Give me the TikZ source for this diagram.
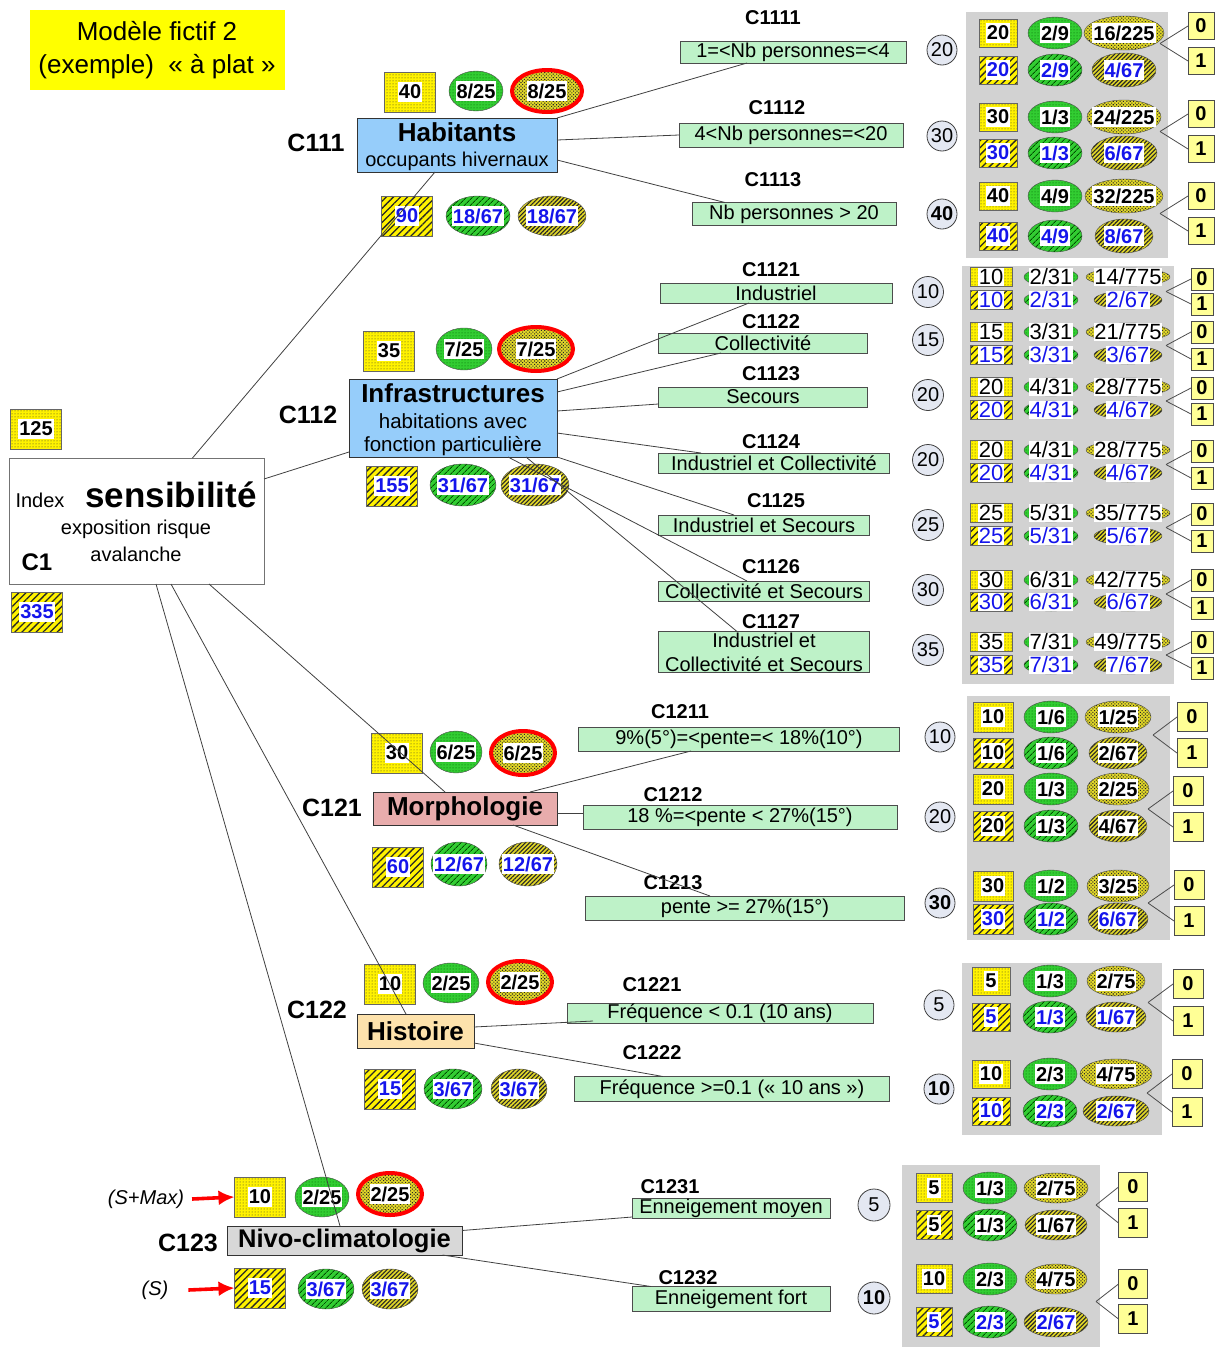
\documentclass[tikz,border=0pt]{standalone}
\usepackage{fontspec}
\setmainfont{Liberation Sans}
\usetikzlibrary{shapes.geometric,patterns,patterns.meta,arrows.meta}
\definecolor{titley}{RGB}{255,255,0}
\definecolor{bluec}{RGB}{150,205,250}
\definecolor{gboxc}{RGB}{190,242,200}
\definecolor{circc}{RGB}{228,232,242}
\definecolor{oboxc}{RGB}{255,255,150}
\definecolor{gcol}{RGB}{50,205,50}
\definecolor{ocol}{RGB}{225,215,40}
\definecolor{pinkc}{RGB}{232,172,172}
\definecolor{wheatc}{RGB}{253,226,172}
\definecolor{nivoc}{RGB}{216,216,216}
\definecolor{panelc}{RGB}{210,210,210}
\definecolor{bluet}{RGB}{20,20,235}
\newcommand\fs[2]{\fontsize{#1}{#2}\selectfont}
\tikzset{
  every node/.append style={inner sep=0pt, outer sep=0pt},
  ln/.style={draw=black!75, line width=0.8pt},
  thinl/.style={draw=black!70, line width=0.8pt},
  clab/.style={font=\bfseries\fs{25}{30}},
  slab/.style={font=\bfseries\fs{20}{24}},
  gbox/.style={draw=black!70, fill=gboxc, font=\fs{20}{24}, line width=0.8pt},
  circ/.style={circle, draw=black!75, fill=circc, minimum size=30pt, font=\fs{20}{24}, line width=0.8pt},
  obox/.style={draw=black!70, fill=oboxc, minimum width=26pt, minimum height=27pt, font=\bfseries\fs{20}{24}, line width=0.8pt},
  ydot/.style={draw=black!60, preaction={fill=yellow}, pattern=dots, pattern color=black!80},
  yhat/.style={draw=black!60, preaction={fill=yellow}, pattern={Lines[angle=45,distance=5pt,line width=1.3pt]}, pattern color=black!85},
  gdot/.style={ellipse, draw=black!70, preaction={fill=gcol}, pattern=dots, pattern color=green!35!black},
  ghat/.style={ellipse, draw=black!70, preaction={fill=gcol}, pattern={Lines[angle=45,distance=4pt,line width=1pt]}, pattern color=green!30!black},
  odot/.style={ellipse, draw=black!70, preaction={fill=ocol}, pattern={Dots[radius=0.75pt,distance=2.4pt,angle=45]}, pattern color=black!85},
  ohat/.style={ellipse, draw=black!70, preaction={fill=ocol}, pattern={Lines[angle=45,distance=3pt,line width=1.1pt]}, pattern color=black!85},
  wl/.style={fill=white, inner xsep=1pt, inner ysep=3pt, font=\bfseries\fs{20}{24}},
  redring/.style={draw=red, line width=4pt},
  bsq/.style={minimum width=51pt, minimum height=40pt},
  mainbox/.style={draw=black!80, line width=0.9pt},
  rarr/.style={draw=red, line width=3.6pt, -{Latex[length=16pt,width=15pt]}},
  panel/.style={fill=panelc},
}
\newcommand\cell[5]{\node[#1] (#2) at (#3) {}; \node[wl,text=#4] (#2t) at (#2) {#5};}
\newcommand\toprow[6]{%
 \cell{ydot,psq}{#1a}{\xa,#2}{black}{#3}%
 \cell{gdot,pel}{#1b}{\xb,#2}{black}{#4}%
 \cell{odot,pol,minimum width=#6}{#1c}{\xc,#2}{black}{#5}}
\newcommand\botrow[7]{%
 \cell{yhat,psq}{#1d}{\xa,#2}{#6}{#3}%
 \cell{ghat,pel}{#1e}{\xb,#2}{#6}{#4}%
 \cell{ohat,pol,minimum width=#7}{#1f}{\xc,#2}{#6}{#5}}
\newcommand\zo[5]{%
 \node[obox] (#1z) at (#2,#3) {0};
 \node[obox] (#1o) at (#2,#4) {1};
 \coordinate (#1k) at (#5,{(#3+#4)/2});
 \draw[thinl] (#1k) -- (#1z.west); \draw[thinl] (#1k) -- (#1o.west);}
\begin{document}
\begin{tikzpicture}[x=1pt,y=-1pt]
\useasboundingbox (0,0) rectangle (1220,1347);

% title
\node[fill=titley, minimum width=255, minimum height=80, align=center, font=\fs{26}{33}] (title) at (157,50) {Modèle fictif 2\\(exemple)~~«~à plat~»};

% C1 root
\node[draw=black!55, fill=white, minimum width=255, minimum height=126, line width=0.8pt] (c1) at (136.5,521) {};
\node[font=\fs{20}{24}] (c1idx) at (40,500) {Index};
\node[font=\bfseries\fs{35}{40}] (c1sens) at (171,495) {sensibilité};
\node[font=\fs{20}{24}] (c1exp) at (136,529) {exposition risque};
\node[font=\fs{20}{24}] (c1ava) at (136,554) {avalanche};
\node[font=\bfseries\fs{24}{28}] (c1lab) at (37,562) {C1};
\cell{ydot,bsq}{c1a}{36,429}{black}{125}
\cell{yhat,bsq}{c1b}{37,612}{bluet}{335}

% ---------- C111 ----------
\cell{ydot,bsq}{a40}{410,92}{black}{40}
\cell{gdot,minimum width=54,minimum height=40}{ag}{476,91}{black}{8/25}
\cell{odot,redring,minimum width=70,minimum height=42}{ar}{547,91}{black}{8/25}
\cell{yhat,bsq}{a90}{407,216}{bluet}{90}
\cell{ghat,minimum width=64,minimum height=40}{agh}{478,216}{bluet}{18/67}
\cell{ohat,minimum width=68,minimum height=40}{aoh}{552,216}{bluet}{18/67}
\node[mainbox, fill=bluec, minimum width=200, minimum height=54] (hab) at (457,145) {};
\node[font=\bfseries\fs{26}{30}] (habt) at (457,132) {Habitants};
\node[font=\fs{20}{24}] (habs) at (457,161) {occupants hivernaux};
\node[clab] (c111) at (316,143) {C111};

\node[slab] (l1111) at (773,18) {C1111};
\node[gbox, minimum width=226, minimum height=22] (g1111) at (793,52) {1=<Nb personnes=<4};
\node[slab] (l1112) at (777,108) {C1112};
\node[gbox, minimum width=224, minimum height=24] (g1112) at (791,135) {4<Nb personnes=<20};
\node[slab] (l1113) at (773,180) {C1113};
\node[gbox, minimum width=204, minimum height=23] (g1113) at (794,214) {Nb personnes > 20};
\node[circ] (k1111) at (942,50) {20};
\node[circ] (k1112) at (942,136) {30};
\node[circ] (k1113) at (942,214) {\bfseries 40};

\begin{scope}[psq/.style={minimum width=38,minimum height=28}, pel/.style={minimum width=54,minimum height=32}, pol/.style={minimum height=34}]
\def\xa{998}\def\xb{1055}\def\xc{1124}
\fill[panel] (966,12) rectangle (1168,258);
\toprow{pa1}{33}{20}{2/9}{16/225}{80}
\botrow{pa1}{70}{20}{2/9}{4/67}{bluet}{64}
\zo{pa1}{1201}{26}{61}{1160}
\toprow{pa2}{117}{30}{1/3}{24/225}{74}
\botrow{pa2}{153}{30}{1/3}{6/67}{bluet}{66}
\zo{pa2}{1201}{114}{149}{1160}
\toprow{pa3}{196}{40}{4/9}{32/225}{78}
\botrow{pa3}{236}{40}{4/9}{8/67}{bluet}{58}
\zo{pa3}{1201}{196}{231}{1160}
\end{scope}

% ---------- C112 ----------
\cell{ydot,bsq}{b35}{389,351}{black}{35}
\cell{gdot,minimum width=56,minimum height=42}{bg}{464,349}{black}{7/25}
\cell{odot,redring,minimum width=74,minimum height=44}{br}{536,349}{black}{7/25}
\cell{yhat,bsq}{b155}{392,486}{bluet}{155}
\cell{ghat,minimum width=66,minimum height=42}{bgh}{463,485}{bluet}{31/67}
\cell{ohat,minimum width=68,minimum height=42}{boh}{535,485}{bluet}{31/67}
\node[mainbox, fill=bluec, minimum width=208, minimum height=78] (inf) at (453,418) {};
\node[font=\bfseries\fs{26}{30}] (inft) at (453,393) {Infrastructures};
\node[font=\fs{20.5}{24}] (infs1) at (453,421) {habitations avec};
\node[font=\fs{20.5}{24}] (infs2) at (453,446) {fonction particulière};
\node[clab] (c112) at (308,415) {C112};

\node[slab] (l1121) at (771,270) {C1121};
\node[gbox, minimum width=232, minimum height=20] (g1121) at (776,293) {Industriel};
\node[slab] (l1122) at (771,322) {C1122};
\node[gbox, minimum width=209, minimum height=20] (g1122) at (763,343) {Collectivité};
\node[slab] (l1123) at (771,374) {C1123};
\node[gbox, minimum width=209, minimum height=20] (g1123) at (763,397) {Secours};
\node[slab] (l1124) at (771,442) {C1124};
\node[gbox, minimum width=231, minimum height=20] (g1124) at (774,463) {Industriel et Collectivité};
\node[slab] (l1125) at (776,501) {C1125};
\node[gbox, minimum width=211, minimum height=20] (g1125) at (764,525) {Industriel et Secours};
\node[slab] (l1126) at (771,567) {C1126};
\node[gbox, minimum width=211, minimum height=20] (g1126) at (764,591) {Collectivité et Secours};
\node[gbox, minimum width=211, minimum height=41, align=center] (g1127) at (764,652) {Industriel et\\Collectivité et Secours};
\node[slab] (l1127) at (771,622) {C1127};
\node[circ,minimum size=31pt] (k1121) at (928,292) {10};
\node[circ,minimum size=31pt] (k1122) at (928,340) {15};
\node[circ,minimum size=31pt] (k1123) at (928,395) {20};
\node[circ,minimum size=31pt] (k1124) at (928,460) {20};
\node[circ,minimum size=31pt] (k1125) at (928,525) {25};
\node[circ,minimum size=31pt] (k1126) at (928,590) {30};
\node[circ,minimum size=31pt] (k1127) at (928,650) {35};

\begin{scope}[psq/.style={minimum width=42,minimum height=19}, pel/.style={minimum width=54,minimum height=18}, pol/.style={minimum height=18},
  wl/.style={fill=white, inner xsep=0.5pt, inner ysep=0pt, minimum height=18pt, font=\fs{22}{24}},
  obox/.append style={minimum width=22pt, minimum height=22pt}]
\def\xa{991}\def\xb{1051}\def\xc{1128}
\fill[panel] (962,266) rectangle (1174,684);
\toprow{pb1}{277}{10}{2/31}{14/775}{84}
\botrow{pb1}{300}{10}{2/31}{2/67}{bluet}{68}
\zo{pb1}{1202}{279}{304}{1166}
\toprow{pb2}{332}{15}{3/31}{21/775}{84}
\botrow{pb2}{355}{15}{3/31}{3/67}{bluet}{68}
\zo{pb2}{1202}{332}{359}{1166}
\toprow{pb3}{387}{20}{4/31}{28/775}{84}
\botrow{pb3}{410}{20}{4/31}{4/67}{bluet}{68}
\zo{pb3}{1202}{388}{414}{1166}
\toprow{pb4}{450}{20}{4/31}{28/775}{84}
\botrow{pb4}{473}{20}{4/31}{4/67}{bluet}{68}
\zo{pb4}{1202}{451}{478}{1166}
\toprow{pb5}{513}{25}{5/31}{35/775}{84}
\botrow{pb5}{536}{25}{5/31}{5/67}{bluet}{68}
\zo{pb5}{1202}{514}{541}{1166}
\toprow{pb6}{580}{30}{6/31}{42/775}{84}
\botrow{pb6}{602}{30}{6/31}{6/67}{bluet}{68}
\zo{pb6}{1202}{580}{608}{1166}
\toprow{pb7}{642}{35}{7/31}{49/775}{84}
\botrow{pb7}{665}{35}{7/31}{7/67}{bluet}{68}
\zo{pb7}{1202}{642}{668}{1166}
\end{scope}

% ---------- C121 ----------
\cell{ydot,bsq}{c30}{397,753}{black}{30}
\cell{gdot,minimum width=52,minimum height=42}{cg}{456,752}{black}{6/25}
\cell{odot,redring,minimum width=64,minimum height=44}{cr}{523,753}{black}{6/25}
\cell{yhat,bsq}{c60}{398,867}{bluet}{60}
\cell{ghat,minimum width=56,minimum height=44}{cgh}{459,864}{bluet}{12/67}
\cell{ohat,minimum width=58,minimum height=44}{coh}{528,864}{bluet}{12/67}
\node[mainbox, fill=pinkc, minimum width=184, minimum height=33, font=\bfseries\fs{26}{30}] (morph) at (465,808.5) {Morphologie};
\node[clab] (c121) at (332,808) {C121};

\node[slab] (l1211) at (680,712) {C1211};
\node[gbox, minimum width=321, minimum height=24] (g1211) at (739,739) {9\%(5°)=<pente=< 18\%(10°)};
\node[slab] (l1212) at (673,795) {C1212};
\node[gbox, minimum width=314, minimum height=24] (g1212) at (740,817) {18 \%=<pente < 27\%(15°)};
\node[slab] (l1213) at (673,883) {C1213};
\node[gbox, minimum width=319, minimum height=24] (g1213) at (745,908) {pente >= 27\%(15°)};
\node[circ] (k1211) at (940,737) {10};
\node[circ] (k1212) at (940,817) {20};
\node[circ] (k1213) at (940,903) {\bfseries 30};

\begin{scope}[psq/.style={minimum width=40,minimum height=30}, pel/.style={minimum width=54,minimum height=32}, pol/.style={minimum height=32},
  obox/.append style={minimum width=30pt, minimum height=29pt}]
\def\xa{993}\def\xb{1051}\def\xc{1118}
\fill[panel] (967,696) rectangle (1170,940);
\toprow{pc1}{717}{10}{1/6}{1/25}{66}
\botrow{pc1}{753}{10}{1/6}{2/67}{black}{58}
\zo{pc1}{1192}{717}{753}{1153}
\toprow{pc2}{789}{20}{1/3}{2/25}{62}
\botrow{pc2}{826}{20}{1/3}{4/67}{black}{58}
\zo{pc2}{1188}{791}{827}{1148}
\toprow{pc3}{886}{30}{1/2}{3/25}{62}
\botrow{pc3}{919}{30}{1/2}{6/67}{bluet}{60}
\zo{pc3}{1189}{885}{921}{1148}
\end{scope}

% ---------- C122 ----------
\cell{ydot,bsq}{d10}{390,984}{black}{10}
\cell{gdot,minimum width=56,minimum height=40}{dg}{451,983}{black}{2/25}
\cell{odot,redring,minimum width=64,minimum height=42}{dr}{520,982}{black}{2/25}
\cell{yhat,bsq}{d15}{390,1089}{bluet}{15}
\cell{ghat,minimum width=58,minimum height=40}{dgh}{453,1089}{bluet}{3/67}
\cell{ohat,minimum width=56,minimum height=40}{doh}{519,1089}{bluet}{3/67}
\node[mainbox, fill=wheatc, minimum width=117, minimum height=34, font=\bfseries\fs{26}{30}] (hist) at (415.5,1031) {Histoire};
\node[clab] (c122) at (317,1010) {C122};

\node[slab] (l1221) at (652,985) {C1221};
\node[gbox, minimum width=306, minimum height=20] (g1221) at (720,1013) {Fréquence < 0.1 (10 ans)};
\node[slab] (l1222) at (652,1053) {C1222};
\node[gbox, minimum width=315, minimum height=25] (g1222) at (732,1089) {Fréquence >=0.1 («~10 ans~»)};
\node[circ] (k1221) at (939,1005) {5};
\node[circ] (k1222) at (939,1089) {\bfseries 10};

\begin{scope}[psq/.style={minimum width=38,minimum height=28}, pel/.style={minimum width=54,minimum height=32}, pol/.style={minimum height=30},
  obox/.append style={minimum width=30pt, minimum height=29pt}]
\def\xa{991}\def\xb{1050}\def\xc{1116}
\fill[panel] (962,963) rectangle (1162,1135);
\toprow{pd1}{981}{5}{1/3}{2/75}{58}
\botrow{pd1}{1017}{5}{1/3}{1/67}{bluet}{60}
\zo{pd1}{1188}{984}{1021}{1148}
\toprow{pd2}{1074}{10}{2/3}{4/75}{72}
\botrow{pd2}{1111}{10}{2/3}{2/67}{bluet}{66}
\zo{pd2}{1187}{1074}{1112}{1147}
\end{scope}

% ---------- C123 ----------
\cell{ydot,bsq}{e10}{260,1197}{black}{10}
\cell{gdot,minimum width=54,minimum height=40}{eg}{322,1197}{black}{2/25}
\cell{odot,redring,minimum width=64,minimum height=42}{er}{390,1194}{black}{2/25}
\cell{yhat,bsq}{e15}{260,1288}{bluet}{15}
\cell{ghat,minimum width=56,minimum height=40}{egh}{326,1289}{bluet}{3/67}
\cell{ohat,minimum width=56,minimum height=40}{eoh}{390,1289}{bluet}{3/67}
\node[mainbox, fill=nivoc, minimum width=235, minimum height=29, font=\bfseries\fs{25.5}{30}] (nivo) at (344.5,1240.5) {Nivo-climatologie};
\node[clab] (c123) at (188,1243) {C123};
\node[font=\itshape\fs{20}{24}] (smax) at (146,1199) {(S+Max)};
\node[font=\itshape\fs{20}{24}] (sonly) at (155,1290) {(S)};

\node[slab] (l1231) at (670,1187) {C1231};
\node[gbox, minimum width=198, minimum height=20] (g1231) at (731,1208) {Enneigement moyen};
\node[slab] (l1232) at (688,1278) {C1232};
\node[gbox, minimum width=198, minimum height=25] (g1232) at (731,1299) {Enneigement fort};
\node[circ,minimum size=32pt] (k1231) at (874,1205) {5};
\node[circ,minimum size=32pt] (k1232) at (874,1298) {\bfseries 10};

\begin{scope}[psq/.style={minimum width=36,minimum height=29}, pel/.style={minimum width=54,minimum height=32}, pol/.style={minimum height=30},
  obox/.append style={minimum width=29pt, minimum height=29pt}]
\def\xa{934}\def\xb{990}\def\xc{1056}
\fill[panel] (902,1165) rectangle (1100,1347);
\toprow{pe1}{1188}{5}{1/3}{2/75}{64}
\botrow{pe1}{1225}{5}{1/3}{1/67}{black}{62}
\zo{pe1}{1133}{1187}{1223}{1096}
\toprow{pe2}{1279}{10}{2/3}{4/75}{62}
\botrow{pe2}{1322}{5}{2/3}{2/67}{bluet}{64}
\zo{pe2}{1133}{1284}{1319}{1096}
\end{scope}

% ---------- connectors ----------
\draw[ln] ([xshift=56pt]c1.north) -- ([xshift=-22pt]hab.south);
\draw[ln] ([yshift=-21pt]c1.north east) -- ([yshift=5pt]inf.south west);
\draw[ln] ([xshift=72.5pt]c1.south) -- ([xshift=-20pt]morph.north);
\draw[ln] ([xshift=34.5pt]c1.south) -- ([xshift=-9.5pt]hist.north);
\draw[ln] ([xshift=19.5pt]c1.south) -- ([xshift=-4.5pt]nivo.north);

\draw[ln] (hab.north east) -- ([xshift=-46pt]g1111.south);
\draw[ln] ([yshift=5pt]hab.east) -- (g1112.west);
\draw[ln] ([yshift=-15pt]hab.east) -- ([xshift=-69pt]g1113.north);

\draw[ln] (inf.north east) -- ([xshift=-27pt]g1121.south);
\draw[ln] ([yshift=-13pt]inf.north east) -- ([xshift=-42pt]g1122.south);
\draw[ln] ([yshift=-32pt]inf.north east) -- ([yshift=-7pt]g1123.west);
\draw[ln] ([yshift=-54pt]inf.north east) -- ([xshift=-73pt]g1124.north);
\draw[ln] (inf.south east) -- ([xshift=-30pt]g1125.north);
\draw[ln] ([xshift=55pt]inf.south) -- ([xshift=-17pt]g1126.north);
\draw[ln] ([xshift=73pt]inf.south) -- ([xshift=-27pt]g1127.north);

\draw[ln] ([xshift=65pt]morph.north) -- ([xshift=-48pt]g1211.south);
\draw[ln] ([yshift=-4.5pt]morph.east) -- ([yshift=4pt]g1212.west);
\draw[ln] ([xshift=48pt]morph.south) -- ([xshift=-35pt]g1213.north);

\draw[ln] ([yshift=4pt]hist.east) -- ([xshift=26pt,yshift=-8pt]g1221.west);
\draw[ln] ([yshift=-12pt]hist.east) -- ([xshift=-69pt]g1222.north);

\draw[ln] ([yshift=10pt]nivo.east) -- ([yshift=-9pt]g1231.west);
\draw[ln] ([xshift=98pt]nivo.south) -- ([xshift=-80pt]g1232.north);

\draw[rarr] ([xshift=8pt]smax.east) -- (e10.west);
\draw[rarr] ([xshift=20pt]sonly.east) -- (e15.west);
\end{tikzpicture}
\end{document}
